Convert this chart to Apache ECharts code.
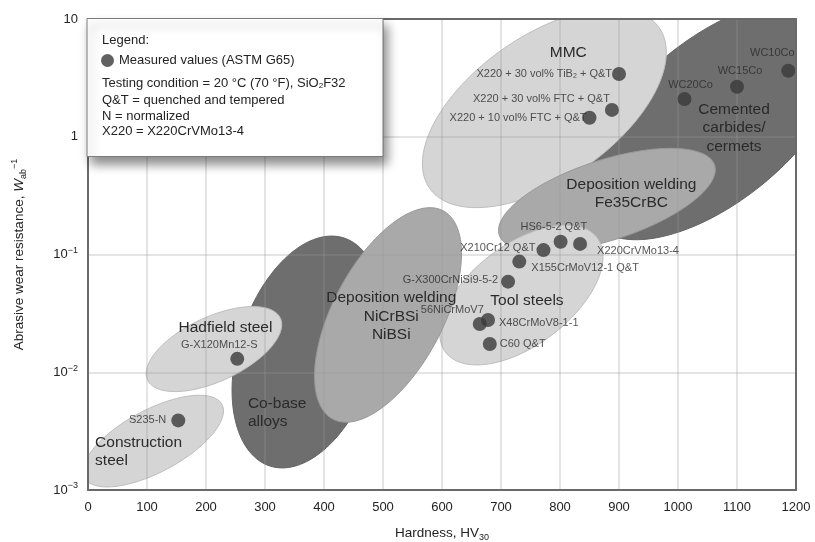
<!DOCTYPE html>
<html>
<head>
<meta charset="utf-8">
<title>Abrasive wear resistance vs. hardness</title>
<script src="https://cdn.jsdelivr.net/npm/echarts@6/dist/echarts.min.js"></script>
<style>
  html, body { margin: 0; padding: 0; background: #ffffff; }
  #chart { width: 815px; height: 542px; }
</style>
</head>
<body>
<div id="chart"></div>
<script>
// ---- Measured values (ASTM G65) ----
const materials = [
  'S235-N', 'G-X120Mn12-S', 'C60 Q&T', 'X48CrMoV8-1-1', '56NiCrMoV7',
  'G-X300CrNiSi9-5-2', 'X155CrMoV12-1 Q&T', 'X210Cr12 Q&T', 'HS6-5-2 Q&T',
  'X220CrVMo13-4', 'X220 + 10 vol% FTC + Q&T', 'X220 + 30 vol% FTC + Q&T',
  'X220 + 30 vol% TiB2 + Q&T', 'WC20Co', 'WC15Co', 'WC10Co'
];
const hardness = [153, 253, 681, 678, 664, 712, 731, 772, 801, 834, 850, 888, 900, 1011, 1100, 1187];
const wearResistance = [0.0039, 0.013, 0.0174, 0.0278, 0.0257, 0.0588, 0.087, 0.109, 0.1285, 0.123,
  1.45, 1.69, 3.41, 2.09, 2.66, 3.64];

// ---- Material class regions (drawn back to front) ----
// each region is an ellipse whose long axis runs from (startHV, startW) to (endHV, endW);
// regionWidth is the ratio of the short axis to the long axis
const regionNames = [
  'Cemented\ncarbides/\ncermets', 'MMC', 'Deposition welding\nFe35CrBC', 'Co-base\nalloys',
  'Tool steels', 'Deposition welding\nNiCrBSi\nNiBSi', 'Construction\nsteel', 'Hadfield steel'
];
const regionStartHV = [855, 579, 697, 308, 606, 415, -6, 101];
const regionStartW  = [0.1855, 0.365, 0.1466, 0.0016, 0.0148, 0.0040, 0.00127, 0.0086];
const regionEndHV   = [1270, 968, 1062, 434, 863, 602, 227, 326];
const regionEndW    = [10.4, 8.44, 0.574, 0.138, 0.1386, 0.235, 0.00533, 0.0288];
const regionWidth   = [0.50, 0.514, 0.354, 0.57, 0.53, 0.466, 0.40, 0.44];
// where each region's name is written
const regionLabelHV = [1095, 814, 921, 271, 744, 514, 12, 233];
const regionLabelW  = [1.19, 5.21, 0.327, 0.00455, 0.0403, 0.0297, 0.00212, 0.0238];

// ---- Axis ticks ----
const xTicks = [0, 100, 200, 300, 400, 500, 600, 700, 800, 900, 1000, 1100, 1200];
const yTickValues = [0.001, 0.01, 0.1, 1, 10];
const yTickLabels = ['10{e|\u22123}', '10{e|\u22122}', '10{e|\u22121}', '1', '10'];

// ---- Styling ----
const FONT = '"Liberation Sans", Arial, Helvetica, sans-serif';
const TEXT = '#232323';
const regionTone = ['dark', 'light', 'medium', 'dark', 'light', 'medium', 'light', 'light'];
const toneFill = { light: '#d5d5d5', medium: '#a9a9a9', dark: '#6e6e6e' };
const toneEdge = { light: '#bdbdbd', medium: '#999999', dark: '#646464' };
const regionLabelAlign = ['center', 'center', 'center', 'left', 'center', 'center', 'left', 'center'];

const labelPlacement = {
  'S235-N': { position: 'left', distance: 5, offset: [0, 0] },
  'G-X120Mn12-S': { position: 'top', distance: 5, offset: [-18, 4] },
  'C60 Q&T': { position: 'right', distance: 3, offset: [0, 0] },
  'X48CrMoV8-1-1': { position: 'right', distance: 4, offset: [0, 3] },
  '56NiCrMoV7': { position: 'left', distance: 5, offset: [16, -14] },
  'G-X300CrNiSi9-5-2': { position: 'left', distance: 3, offset: [0, -1.5] },
  'X155CrMoV12-1 Q&T': { position: 'right', distance: 5, offset: [0, 6.5] },
  'X210Cr12 Q&T': { position: 'left', distance: 1, offset: [0, -2] },
  'HS6-5-2 Q&T': { position: 'top', distance: 5, offset: [-6.7, 2.5] },
  'X220CrVMo13-4': { position: 'right', distance: 10, offset: [0, 6.7] },
  'X220 + 10 vol% FTC + Q&T': { position: 'left', distance: 5, offset: [9, 0] },
  'X220 + 30 vol% FTC + Q&T': { position: 'left', distance: 5, offset: [10, -11] },
  'X220 + 30 vol% TiB2 + Q&T': { position: 'left', distance: 5, offset: [5, 0] },
  'WC20Co': { position: 'top', distance: 5, offset: [6, 3.5] },
  'WC15Co': { position: 'top', distance: 5, offset: [3, 1.5] },
  'WC10Co': { position: 'top', distance: 5, offset: [-16, 0] }
};

const SERIES_NAME = 'Measured values (ASTM G65)';

function renderRegion(params, api) {
  const i = api.value(5);
  const p1 = api.coord([api.value(0), api.value(1)]);
  const p2 = api.coord([api.value(2), api.value(3)]);
  const cx = (p1[0] + p2[0]) / 2;
  const cy = (p1[1] + p2[1]) / 2;
  const semiMajor = Math.hypot(p2[0] - p1[0], p2[1] - p1[1]) / 2;
  const semiMinor = semiMajor * api.value(4);
  const ang = Math.atan2(p2[1] - p1[1], p2[0] - p1[0]);
  const ca = Math.cos(ang), sa = Math.sin(ang);
  const points = [];
  const steps = 160;
  for (let k = 0; k < steps; k++) {
    const t = (k / steps) * Math.PI * 2;
    const u = semiMajor * Math.cos(t);
    const v = semiMinor * Math.sin(t);
    points.push([cx + u * ca - v * sa, cy + u * sa + v * ca]);
  }
  const tone = regionTone[i];
  return {
    type: 'polygon',
    shape: { points: points },
    style: { fill: toneFill[tone], stroke: toneEdge[tone], lineWidth: 1 }
  };
}

function renderRegionName(params, api) {
  const i = api.value(2);
  const p = api.coord([api.value(0), api.value(1)]);
  return {
    type: 'text',
    x: p[0],
    y: p[1],
    style: {
      text: regionNames[i],
      fill: '#2a2a2a',
      fontSize: 15.5,
      fontFamily: FONT,
      align: regionLabelAlign[i],
      verticalAlign: 'middle',
      lineHeight: 18.5
    }
  };
}

function yTickFormatter(v) {
  const k = Math.round(Math.log10(v));
  const idx = yTickValues.findIndex(t => Math.round(Math.log10(t)) === k);
  return idx >= 0 ? yTickLabels[idx] : '';
}

const chart = echarts.init(document.getElementById('chart'), null, { renderer: 'canvas' });

const option = {
  animation: false,
  backgroundColor: '#ffffff',
  textStyle: { fontFamily: FONT },
  grid: { left: 88, right: 19, top: 19, bottom: 52, containLabel: false, outerBoundsMode: 'none' },
  legend: {
    data: [SERIES_NAME],
    left: 101,
    top: 54,
    padding: 0,
    icon: 'circle',
    itemWidth: 13,
    itemHeight: 13,
    selectedMode: false,
    z: 30,
    textStyle: { fontSize: 13, color: TEXT, fontFamily: FONT }
  },
  xAxis: [
    {
      type: 'value',
      min: xTicks[0],
      max: xTicks[xTicks.length - 1],
      interval: xTicks[1] - xTicks[0],
      z: 3,
      name: '{t|Hardness, HV}{b|30}',
      nameLocation: 'middle',
      nameGap: 34,
      nameTextStyle: {
        color: TEXT,
        rich: {
          t: { fontSize: 13.5, color: TEXT, fontFamily: FONT, lineHeight: 18 },
          b: { fontSize: 9, color: TEXT, fontFamily: FONT, verticalAlign: 'bottom', lineHeight: 10 }
        }
      },
      axisLine: { show: true, onZero: false, lineStyle: { color: '#6a6a6a', width: 2 } },
      axisTick: { show: false },
      axisLabel: {
        fontSize: 13, color: TEXT, margin: 11, showMinLabel: true, showMaxLabel: true,
        formatter: v => String(v)
      },
      splitLine: { show: true, lineStyle: { color: 'rgba(150,150,150,0.35)', width: 1.5 } }
    },
    {
      type: 'value',
      position: 'top',
      min: xTicks[0],
      max: xTicks[xTicks.length - 1],
      z: 6,
      axisLine: { show: true, onZero: false, lineStyle: { color: '#6a6a6a', width: 2 } },
      axisTick: { show: false },
      axisLabel: { show: false },
      splitLine: { show: false }
    }
  ],
  yAxis: [
    {
      type: 'log',
      logBase: 10,
      min: yTickValues[0],
      max: yTickValues[yTickValues.length - 1],
      z: 3,
      name: '{t|Abrasive wear resistance, }{w|W}{b|ab}{e|\u22121}',
      nameLocation: 'middle',
      nameGap: 60,
      nameRotate: 90,
      nameTextStyle: {
        color: TEXT,
        rich: {
          t: { fontSize: 13.5, color: TEXT, fontFamily: FONT, lineHeight: 18 },
          w: { fontSize: 13.5, color: TEXT, fontFamily: FONT, fontStyle: 'italic', lineHeight: 18 },
          b: { fontSize: 9, color: TEXT, fontFamily: FONT, verticalAlign: 'bottom', lineHeight: 10 },
          e: { fontSize: 9, color: TEXT, fontFamily: FONT, verticalAlign: 'top', lineHeight: 10 }
        }
      },
      axisLine: { show: true, onZero: false, lineStyle: { color: '#6a6a6a', width: 2 } },
      axisTick: { show: false },
      axisLabel: {
        fontSize: 13,
        color: TEXT,
        margin: 10,
        showMinLabel: true,
        showMaxLabel: true,
        formatter: yTickFormatter,
        rich: {
          e: { fontSize: 9, color: TEXT, fontFamily: FONT, padding: [0, 0, 8, 0] }
        }
      },
      splitLine: { show: true, lineStyle: { color: 'rgba(150,150,150,0.35)', width: 1.5 } },
      minorSplitLine: { show: false }
    },
    {
      type: 'value',
      position: 'right',
      min: 0,
      max: 1,
      z: 6,
      axisLine: { show: true, onZero: false, lineStyle: { color: '#6a6a6a', width: 2 } },
      axisTick: { show: false },
      axisLabel: { show: false },
      splitLine: { show: false }
    }
  ],
  graphic: [
    {
      type: 'rect',
      x: 87, y: 18.5,
      z: 20,
      shape: { width: 296, height: 138 },
      style: {
        fill: '#ffffff',
        stroke: '#7c7c7c',
        lineWidth: 1,
        shadowBlur: 10,
        shadowOffsetX: 4,
        shadowOffsetY: 7,
        shadowColor: 'rgba(0,0,0,0.45)'
      }
    },
    {
      type: 'text', x: 102, y: 40, z: 25,
      style: { text: 'Legend:', fontSize: 13, fontFamily: FONT, fill: TEXT, verticalAlign: 'middle' }
    },
    {
      type: 'text', x: 102, y: 83.5, z: 25,
      style: {
        text: 'Testing condition = 20 \u00b0C (70 \u00b0F), SiO{s|2}F32',
        fontSize: 13, fontFamily: FONT, fill: TEXT, verticalAlign: 'middle',
        rich: { s: { fontSize: 8, fontFamily: FONT, fill: TEXT, verticalAlign: 'bottom', lineHeight: 9 } }
      }
    },
    {
      type: 'text', x: 102, y: 100, z: 25,
      style: { text: 'Q&T = quenched and tempered', fontSize: 13, fontFamily: FONT, fill: TEXT, verticalAlign: 'middle' }
    },
    {
      type: 'text', x: 102, y: 116, z: 25,
      style: { text: 'N = normalized', fontSize: 13, fontFamily: FONT, fill: TEXT, verticalAlign: 'middle' }
    },
    {
      type: 'text', x: 102, y: 131.5, z: 25,
      style: { text: 'X220 = X220CrVMo13-4', fontSize: 13, fontFamily: FONT, fill: TEXT, verticalAlign: 'middle' }
    }
  ],
  series: [
    {
      type: 'custom',
      name: 'regions',
      coordinateSystem: 'cartesian2d',
      xAxisIndex: 0,
      yAxisIndex: 0,
      clip: true,
      silent: true,
      z: 2,
      renderItem: renderRegion,
      data: regionNames.map((n, i) => [regionStartHV[i], regionStartW[i], regionEndHV[i], regionEndW[i], regionWidth[i], i])
    },
    {
      type: 'custom',
      name: 'region names',
      coordinateSystem: 'cartesian2d',
      xAxisIndex: 0,
      yAxisIndex: 0,
      clip: false,
      silent: true,
      z: 4,
      renderItem: renderRegionName,
      data: regionNames.map((n, i) => [regionLabelHV[i], regionLabelW[i], i])
    },
    {
      type: 'scatter',
      name: SERIES_NAME,
      xAxisIndex: 0,
      yAxisIndex: 0,
      z: 5,
      symbol: 'circle',
      symbolSize: 14,
      itemStyle: { color: '#3a3a3a' },
      label: {
        show: true,
        fontSize: 11,
        color: '#2b2b2b',
        fontFamily: FONT,
        formatter: p => p.name.replace('TiB2', 'TiB{s|2}'),
        rich: { s: { fontSize: 7, color: '#2b2b2b', fontFamily: FONT, verticalAlign: 'bottom', lineHeight: 8 } }
      },
      data: materials.map((m, i) => ({
        name: m,
        value: [hardness[i], wearResistance[i]],
        label: labelPlacement[m]
      }))
    }
  ]
};

chart.setOption(option);
</script>
</body>
</html>
